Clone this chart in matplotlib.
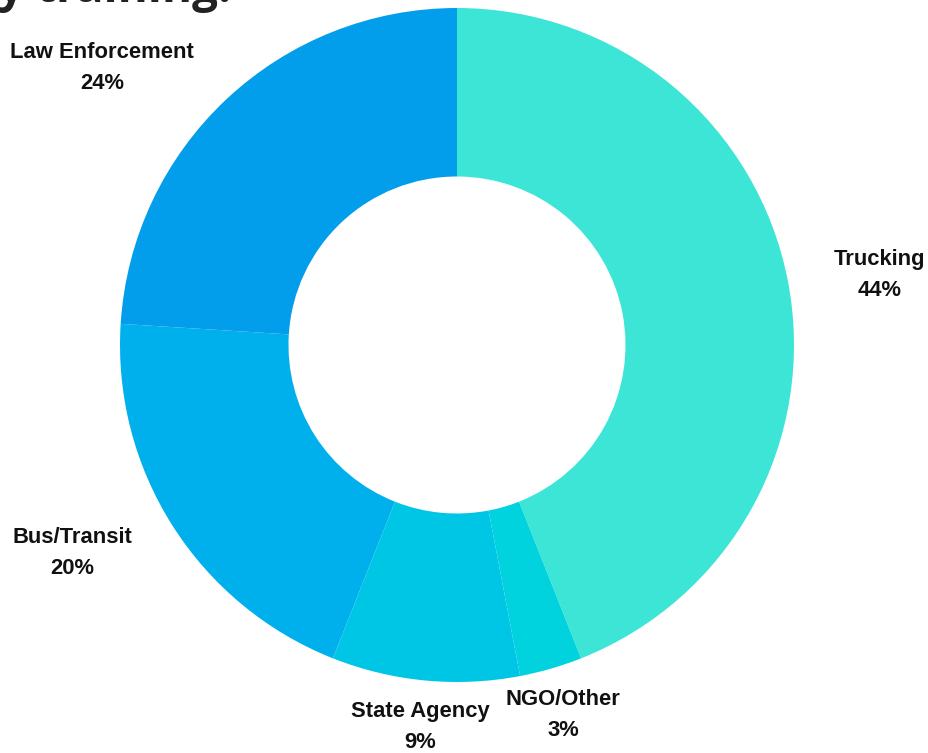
import matplotlib
matplotlib.use("Agg")
import matplotlib.pyplot as plt

categories = ["Trucking", "NGO/Other", "State Agency", "Bus/Transit", "Law Enforcement"]
values = [44, 3, 9, 20, 24]
colors = ["#3CE5D6", "#00D2DE", "#00C6E6", "#00B0EC", "#039EEB"]
# label centre positions in pixel coordinates (x from left, y from top)
label_pos = [(880, 275), (563, 715), (420, 727), (72, 553), (102, 68)]

W, H = 929, 753
fig = plt.figure(figsize=(W / 100, H / 100), dpi=100)
ax = fig.add_axes([0, 0, 1, 1])

cx, cy, R = 457, H - 345, 337
ax.pie(values, colors=colors, startangle=90, counterclock=False,
       radius=R, center=(cx, cy), frame=True,
       wedgeprops=dict(width=R * 0.5, linewidth=0))
ax.set_xlim(0, W)
ax.set_ylim(0, H)
ax.set_aspect("equal")
ax.axis("off")

for cat, v, (lx, ly) in zip(categories, values, label_pos):
    ax.text(lx, H - ly, f"{cat}\n{v}%", ha="center", va="center",
            fontsize=15.8, fontweight="bold", family="Liberation Sans",
            color="#111111", linespacing=1.65)

# title (mostly cut off at top of image, as in the reference)
fig.text(-2 / W, 1 - 2 / H, "y training.", ha="left", va="baseline",
         fontsize=33, fontweight="bold", family="Open Sans", color="#222222")

fig.savefig("out.png", dpi=100)
